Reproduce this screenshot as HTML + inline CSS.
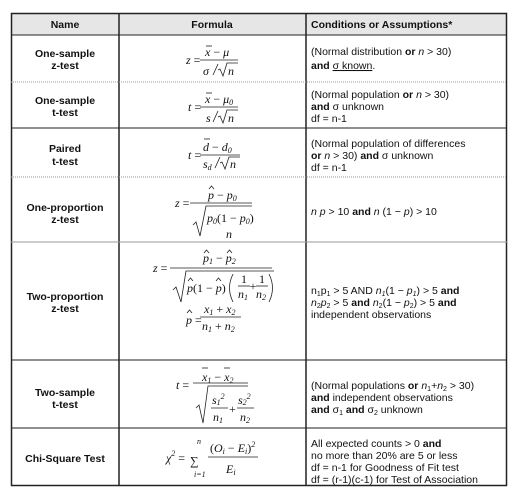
<!DOCTYPE html>
<html><head><meta charset="utf-8"><style>
html,body{margin:0;padding:0;background:#fff;}
svg{display:block}
.s{font-family:"Liberation Sans",sans-serif;font-size:10.5px;fill:#111}
.b{font-weight:bold}
.m{font-family:"Liberation Serif",serif;font-size:12px;font-style:italic;fill:#111}
.mr{font-family:"Liberation Serif",serif;font-size:12px;font-style:normal;fill:#111}
.sm{font-family:"Liberation Serif",serif;font-size:8px;font-style:italic;fill:#111}
</style></head><body>
<svg width="516" height="496" viewBox="0 0 516 496" xmlns="http://www.w3.org/2000/svg">
<rect x="11" y="14" width="496" height="21" fill="#e6e6e6"/>
<g stroke="#222" fill="none">
<rect x="11.5" y="13.5" width="495" height="472" stroke-width="1.5"/>
<line x1="119" y1="13" x2="119" y2="486" stroke-width="1.5"/>
<line x1="306" y1="13" x2="306" y2="486" stroke-width="1.5"/>
<line x1="11" y1="35" x2="507" y2="35"/>
<line x1="11" y1="82" x2="507" y2="82" stroke="#999" stroke-dasharray="1 1"/>
<line x1="11" y1="128" x2="507" y2="128"/>
<line x1="11" y1="177" x2="507" y2="177" stroke="#999" stroke-dasharray="1 1"/>
<line x1="11" y1="242" x2="507" y2="242" stroke="#999"/>
<line x1="11" y1="360" x2="507" y2="360"/>
<line x1="11" y1="428" x2="507" y2="428"/>
</g>
<g class="s b" text-anchor="middle">
<text x="65" y="28">Name</text><text x="212" y="28">Formula</text>
<text x="65" y="57">One-sample</text><text x="65" y="69">z-test</text>
<text x="65" y="104">One-sample</text><text x="65" y="116">t-test</text>
<text x="65" y="152">Paired</text><text x="65" y="165">t-test</text>
<text x="65" y="211">One-proportion</text><text x="65" y="223">z-test</text>
<text x="65" y="300">Two-proportion</text><text x="65" y="312">z-test</text>
<text x="65" y="396">Two-sample</text><text x="65" y="408">t-test</text>
<text x="65" y="462">Chi-Square Test</text>
</g>
<g class="s">
<text x="311" y="28" class="b">Conditions or Assumptions*</text>
<text x="311" y="55">(Normal distribution <tspan class="b">or</tspan> <tspan font-style="italic">n</tspan> &gt; 30)</text>
<text x="311" y="69"><tspan class="b">and</tspan> <tspan text-decoration="underline">σ known</tspan>.</text>
<text x="311" y="98">(Normal population <tspan class="b">or</tspan> <tspan font-style="italic">n</tspan> &gt; 30)</text>
<text x="311" y="110"><tspan class="b">and</tspan> σ unknown</text>
<text x="311" y="122">df = n-1</text>
<text x="311" y="147">(Normal population of differences</text>
<text x="311" y="159"><tspan class="b">or</tspan> <tspan font-style="italic">n</tspan> &gt; 30) <tspan class="b">and</tspan> σ unknown</text>
<text x="311" y="171">df = n-1</text>
<text x="311" y="215"><tspan font-style="italic">n</tspan> <tspan font-style="italic">p</tspan> &gt; 10 <tspan class="b">and</tspan> <tspan font-style="italic">n</tspan> (1 − <tspan font-style="italic">p</tspan>) &gt; 10</text>
<text x="311" y="294">n<tspan font-size="7" dy="2">1</tspan><tspan dy="-2">p</tspan><tspan font-size="7" dy="2">1</tspan><tspan dy="-2"> &gt; 5 AND </tspan><tspan font-style="italic">n</tspan><tspan font-size="7" dy="2" font-style="italic">1</tspan><tspan dy="-2">(1 − </tspan><tspan font-style="italic">p</tspan><tspan font-size="7" dy="2" font-style="italic">1</tspan><tspan dy="-2">) &gt; 5 </tspan><tspan class="b">and</tspan></text>
<text x="311" y="306"><tspan font-style="italic">n</tspan><tspan font-size="7" dy="2">2</tspan><tspan dy="-2" font-style="italic">p</tspan><tspan font-size="7" dy="2">2</tspan><tspan dy="-2"> &gt; 5 </tspan><tspan class="b">and</tspan> <tspan font-style="italic">n</tspan><tspan font-size="7" dy="2">2</tspan><tspan dy="-2">(1 − </tspan><tspan font-style="italic">p</tspan><tspan font-size="7" dy="2">2</tspan><tspan dy="-2">) &gt; 5 </tspan><tspan class="b">and</tspan></text>
<text x="311" y="318">independent observations</text>
<text x="311" y="389">(Normal populations <tspan class="b">or</tspan> <tspan font-style="italic">n</tspan><tspan font-size="7" dy="2">1</tspan><tspan dy="-2">+</tspan><tspan font-style="italic">n</tspan><tspan font-size="7" dy="2">2</tspan><tspan dy="-2"> &gt; 30)</tspan></text>
<text x="311" y="401"><tspan class="b">and</tspan> independent observations</text>
<text x="311" y="413"><tspan class="b">and</tspan> σ<tspan font-size="7" dy="2">1</tspan><tspan dy="-2"> </tspan><tspan class="b">and</tspan> σ<tspan font-size="7" dy="2">2</tspan><tspan dy="-2"> unknown</tspan></text>
<text x="311" y="447">All expected counts &gt; 0 <tspan class="b">and</tspan></text>
<text x="311" y="459">no more than 20% are 5 or less</text>
<text x="311" y="471">df = n-1 for Goodness of Fit test</text>
<text x="311" y="483">df = (r-1)(c-1) for Test of Association</text>
</g>
<g stroke="#222" stroke-width="0.8" fill="none">
<line x1="200" y1="60" x2="238" y2="60"/><line x1="206" y1="46" x2="212" y2="46"/>
<line x1="213" y1="75" x2="218" y2="64"/>
<polyline points="218,70 220,69 223,76 227,63 238,63"/>
<line x1="200" y1="107" x2="238" y2="107"/><line x1="206" y1="93" x2="212" y2="93"/>
<line x1="213" y1="122" x2="218" y2="111"/>
<polyline points="218,117 220,116 223,123 227,110 238,110"/>
<line x1="200" y1="155" x2="240" y2="155"/><line x1="204" y1="139" x2="210" y2="139"/>
<line x1="215" y1="168" x2="220" y2="157"/>
<polyline points="220,163 222,162 225,169 229,157 240,157"/>
<line x1="190" y1="203" x2="252" y2="203"/>
<polyline points="209,189 211.5,186 214,189"/>
<polyline points="193,225 196,222 200,236 206,206 252,206"/>
<line x1="170" y1="268" x2="272" y2="268"/>
<polyline points="204,253 206.5,250 209,253"/><polyline points="227,253 229.5,250 232,253"/>
<polyline points="173,290 176,287 181,302 186,271 274,271"/>
<polyline points="188,281 190.5,278 193,281"/><polyline points="216,281 218.5,278 221,281"/>
<path d="M233,274 Q226,288 233,302"/><path d="M269,274 Q276,288 269,302"/>
<line x1="238" y1="286" x2="250" y2="286"/><line x1="256" y1="286" x2="268" y2="286"/>
<line x1="200" y1="317" x2="241" y2="317"/>
<polyline points="187,313 189.5,310 192,313"/>
<line x1="193" y1="383" x2="248" y2="383"/><line x1="202" y1="368" x2="208" y2="368"/><line x1="224" y1="368" x2="230" y2="368"/>
<polyline points="196,408 199,405 203,423 208,386 248,386"/>
<line x1="211" y1="408" x2="228" y2="408"/><line x1="237" y1="408" x2="254" y2="408"/>
<line x1="208" y1="457" x2="258" y2="457"/>
</g>
<g class="m">
<text x="186" y="64">z <tspan class="mr">=</tspan></text>
<text x="205" y="56">x <tspan class="mr">−</tspan> μ</text>
<text x="203" y="75">σ</text><text x="228" y="75">n</text>
<text x="188" y="111">t <tspan class="mr">=</tspan></text>
<text x="205" y="103">x <tspan class="mr">−</tspan> μ<tspan class="sm" dy="2">0</tspan></text>
<text x="206" y="122">s</text><text x="228" y="122">n</text>
<text x="188" y="159">t <tspan class="mr">=</tspan></text>
<text x="203" y="151">d <tspan class="mr">−</tspan> d<tspan class="sm" dy="2">0</tspan></text>
<text x="203" y="168">s<tspan class="sm" dy="2">d</tspan></text><text x="230" y="168">n</text>
<text x="175" y="207">z <tspan class="mr">=</tspan></text>
<text x="208" y="199">p <tspan class="mr">−</tspan> p<tspan class="sm" dy="2">0</tspan></text>
<text x="207" y="222">p<tspan class="sm" dy="2">0</tspan><tspan class="mr" dy="-2">(1 − </tspan>p<tspan class="sm" dy="2">0</tspan><tspan class="mr" dy="-2">)</tspan></text>
<text x="226" y="238">n</text>
<text x="153" y="272">z <tspan class="mr">=</tspan></text>
<text x="203" y="262">p<tspan class="sm" dy="2">1</tspan><tspan class="mr" dy="-2"> − </tspan>p<tspan class="sm" dy="2">2</tspan></text>
<text x="187" y="292">p<tspan class="mr">(1 − </tspan>p<tspan class="mr">)</tspan></text>
<text x="244" y="283" class="mr" text-anchor="middle">1</text><text x="262" y="283" class="mr" text-anchor="middle">1</text>
<text x="243" y="298" text-anchor="middle">n<tspan class="sm" dy="2">1</tspan></text><text x="261" y="298" text-anchor="middle">n<tspan class="sm" dy="2">2</tspan></text>
<text x="253" y="290" class="mr" text-anchor="middle" font-size="10">+</text>
<text x="186" y="324">p <tspan class="mr">=</tspan></text>
<text x="204" y="313">x<tspan class="sm" dy="2">1</tspan><tspan class="mr" dy="-2"> + </tspan>x<tspan class="sm" dy="2">2</tspan></text>
<text x="202" y="330">n<tspan class="sm" dy="2">1</tspan><tspan class="mr" dy="-2"> + </tspan>n<tspan class="sm" dy="2">2</tspan></text>
<text x="176" y="389">t <tspan class="mr">=</tspan></text>
<text x="202" y="381">x<tspan class="sm" dy="2">1</tspan><tspan class="mr" dy="-2"> − </tspan>x<tspan class="sm" dy="2">2</tspan></text>
<text x="212" y="404">s<tspan class="sm" dy="1">1</tspan><tspan class="sm" dy="-6" font-style="normal">2</tspan></text>
<text x="238" y="404">s<tspan class="sm" dy="1">2</tspan><tspan class="sm" dy="-6" font-style="normal">2</tspan></text>
<text x="213" y="421">n<tspan class="sm" dy="2">1</tspan></text><text x="240" y="421">n<tspan class="sm" dy="2">2</tspan></text>
<text x="229" y="413" class="mr">+</text>
<text x="166" y="462">χ<tspan class="sm" dy="-6" font-style="normal">2</tspan><tspan class="mr" dy="6"> =</tspan></text>
<text x="190" y="465" class="mr" font-size="24">∑</text>
<text x="197" y="444" class="sm">n</text><text x="194" y="477" class="sm" font-style="normal">i=1</text>
<text x="210" y="452"><tspan class="mr">(</tspan>O<tspan class="sm" dy="2">i</tspan><tspan class="mr" dy="-2"> − </tspan>E<tspan class="sm" dy="2">i</tspan><tspan class="mr" dy="-2">)</tspan><tspan class="sm" dy="-5" font-style="normal">2</tspan></text>
<text x="226" y="473">E<tspan class="sm" dy="2">i</tspan></text>
</g>
</svg>
</body></html>
